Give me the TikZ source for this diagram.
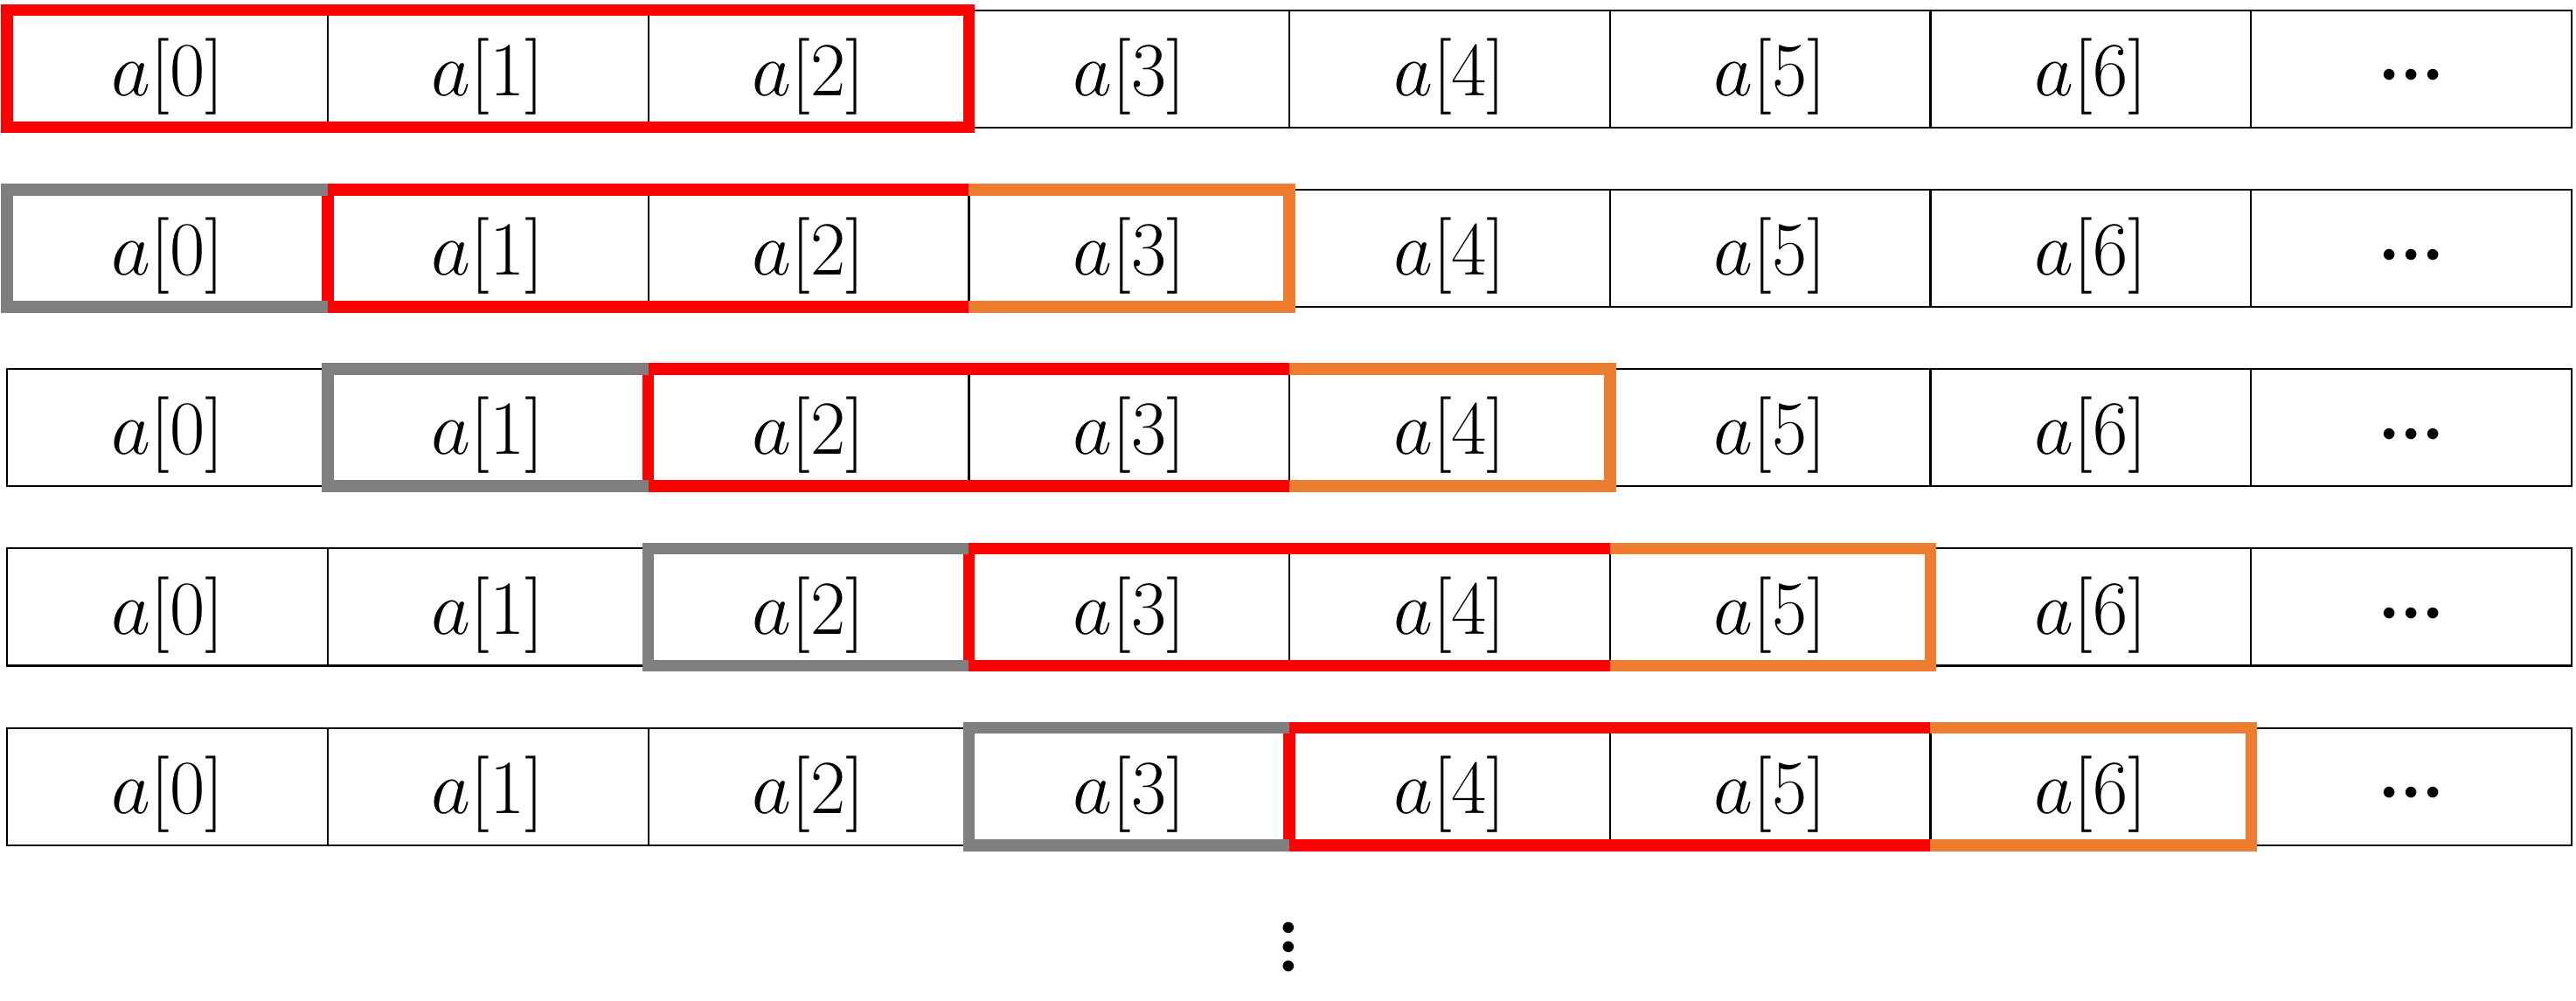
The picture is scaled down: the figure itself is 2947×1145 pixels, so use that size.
\documentclass[tikz,border=0pt]{standalone}
\definecolor{winred}{HTML}{FF0000}
\definecolor{wingray}{HTML}{7F7F7F}
\definecolor{winorange}{HTML}{ED7D31}
\newcommand{\hdots}{${\bullet}\kern2.5pt{\bullet}\kern2.5pt{\bullet}$}
\newcommand{\stackdots}{${\bullet}\kern1.6pt{\bullet}\kern1.6pt{\bullet}$}
\begin{document}
\begin{tikzpicture}[x=0.01cm,y=-0.01cm,
  cell/.style={draw=black, line width=0.57pt, minimum width=3.667cm, minimum height=1.34cm,
    inner sep=0pt, outer sep=0pt, text height=20pt, text depth=2.6pt,
    font=\fontsize{24.88}{28}\selectfont},
  dotcell/.style={cell, text height=8.66pt, text depth=0pt, font=\fontsize{9}{11}\selectfont},
  thickframe/.style={line width=3.84pt, line join=miter, line cap=butt},
  redframe/.style={thickframe, draw=winred},
  grayframe/.style={thickframe, draw=wingray},
  orangeframe/.style={thickframe, draw=winorange}]
\useasboundingbox (0,0) rectangle (2947,1145);
\foreach \r in {0,...,4}{
  \foreach \j in {0,...,7}{
    \pgfmathsetmacro\cx{191.65+366.7*\j}
    \pgfmathsetmacro\cy{78.7+205.25*\r}
    \ifnum\j<7
      \node[cell] (c-\r-\j) at (\cx,\cy) {$a[\j]$};
    \else
      \node[dotcell] (c-\r-\j) at (\cx,\cy) {\hdots};
    \fi
  }
}
\draw[redframe] (c-0-0.north west) rectangle (c-0-2.south east);
\foreach \k in {1,...,4}{
  \pgfmathtruncatemacro\p{\k-1}
  \pgfmathtruncatemacro\n{\k+1}
  \pgfmathtruncatemacro\o{\k+2}
  \draw[redframe] (c-\k-\n.north east) -- (c-\k-\k.north west) -- (c-\k-\k.south west) -- (c-\k-\n.south east);
  \draw[orangeframe] (c-\k-\o.north west) -- (c-\k-\o.north east) -- (c-\k-\o.south east) -- (c-\k-\o.south west);
  \draw[grayframe] (c-\k-\k.north west) -- (c-\k-\p.north west) -- (c-\k-\p.south west) -- (c-\k-\k.south west);
}
\node[rotate=90, inner sep=0pt, text height=4.5pt, text depth=0pt,
  font=\fontsize{9}{11}\selectfont] (vdots) at (1474,1083.5) {\stackdots};
\end{tikzpicture}
\end{document}
